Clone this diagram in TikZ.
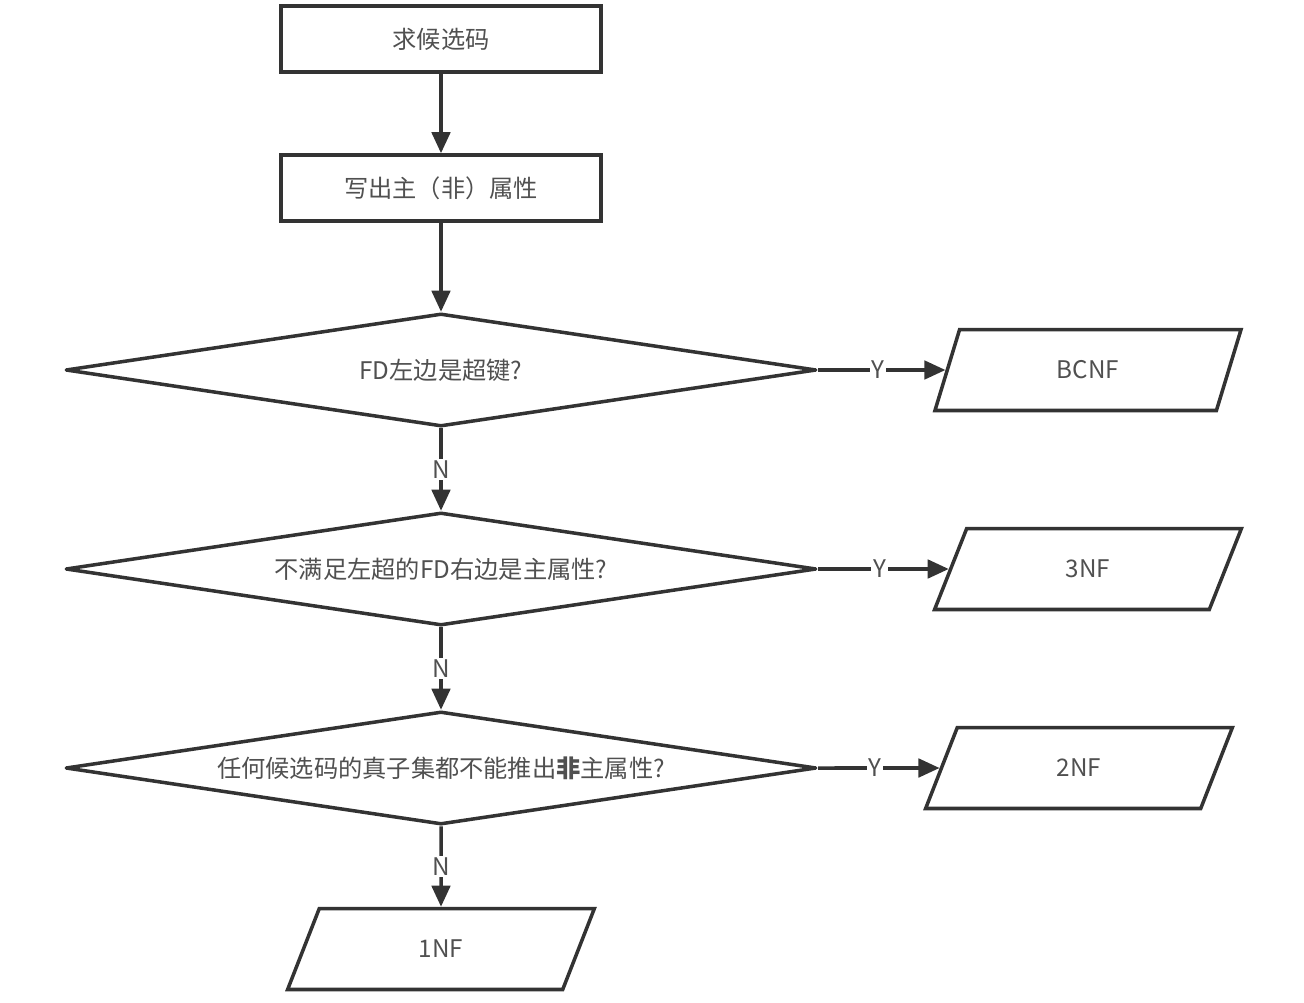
\documentclass[tikz,border=0pt]{standalone}
\usepackage{fontspec}
\setmainfont{Noto Sans CJK SC}
\usepackage{tikz}
\usetikzlibrary{arrows.meta,shapes.geometric}
\definecolor{flowLine}{HTML}{333333}
\definecolor{flowText}{HTML}{505050}
\tikzset{
  stepbox/.style={draw=flowLine,line width=2pt,minimum width=6.4cm,
    minimum height=1.32cm,inner sep=0pt,text=flowText},
  decide/.style={draw=flowLine,line width=2pt,line join=round,diamond,shape aspect=6.6,
    minimum width=15.02cm,minimum height=2.26cm,inner sep=0pt,text=flowText},
  result/.style={draw=flowLine,line width=2pt,trapezium,trapezium left angle=72,
    trapezium right angle=108,trapezium stretches=true,minimum width=6.14cm,
    minimum height=1.62cm,inner sep=0pt,text=flowText},
  flow/.style={-{Triangle[length=12pt,width=10.5pt]},line width=2pt,flowLine},
  tag/.style={fill=white,inner sep=1pt,text=flowText}
}

\begin{document}
\begin{tikzpicture}[x=0.02cm,y=-0.02cm,font=\fontsize{13.8}{16}\selectfont]
  \useasboundingbox (0,0) rectangle (1304,1003);
  \node[stepbox] (cand) at (441,39) {求候选码};
  \node[stepbox] (attr) at (441,188) {写出主（非）属性};

  \node[decide] (qa) at (441,370) {FD左边是超键?};
  \node[decide] (qb) at (441,569) {不满足左超的FD右边是主属性?};
  \node[decide] (qc) at (441,768) {任何候选码的真子集都不能推出{\bfseries 非}主属性?};

  \node[result] (bcnf) at (1088,370) {BCNF};
  \node[result] (nf3) at (1088,569) {3NF};
  \node[result] (nf2) at (1079,768) {2NF};
  \node[result] (nf1) at (441,949) {1NF};

  \draw[flow] (cand) -- (attr);
  \draw[flow] (attr) -- (qa);
  \draw[flow] (qa) -- node[tag]{N} (qb);
  \draw[flow] (qb) -- node[tag]{N} (qc);
  \draw[flow] (qc) -- node[tag]{N} (nf1);
  \draw[flow] (qa.east) -- node[tag,pos=.47]{Y} (bcnf);
  \draw[flow] (qb.east) -- node[tag,pos=.47]{Y} (nf3);
  \draw[flow] (qc.east) -- node[tag,pos=.47]{Y} (nf2);
\end{tikzpicture}
\end{document}
